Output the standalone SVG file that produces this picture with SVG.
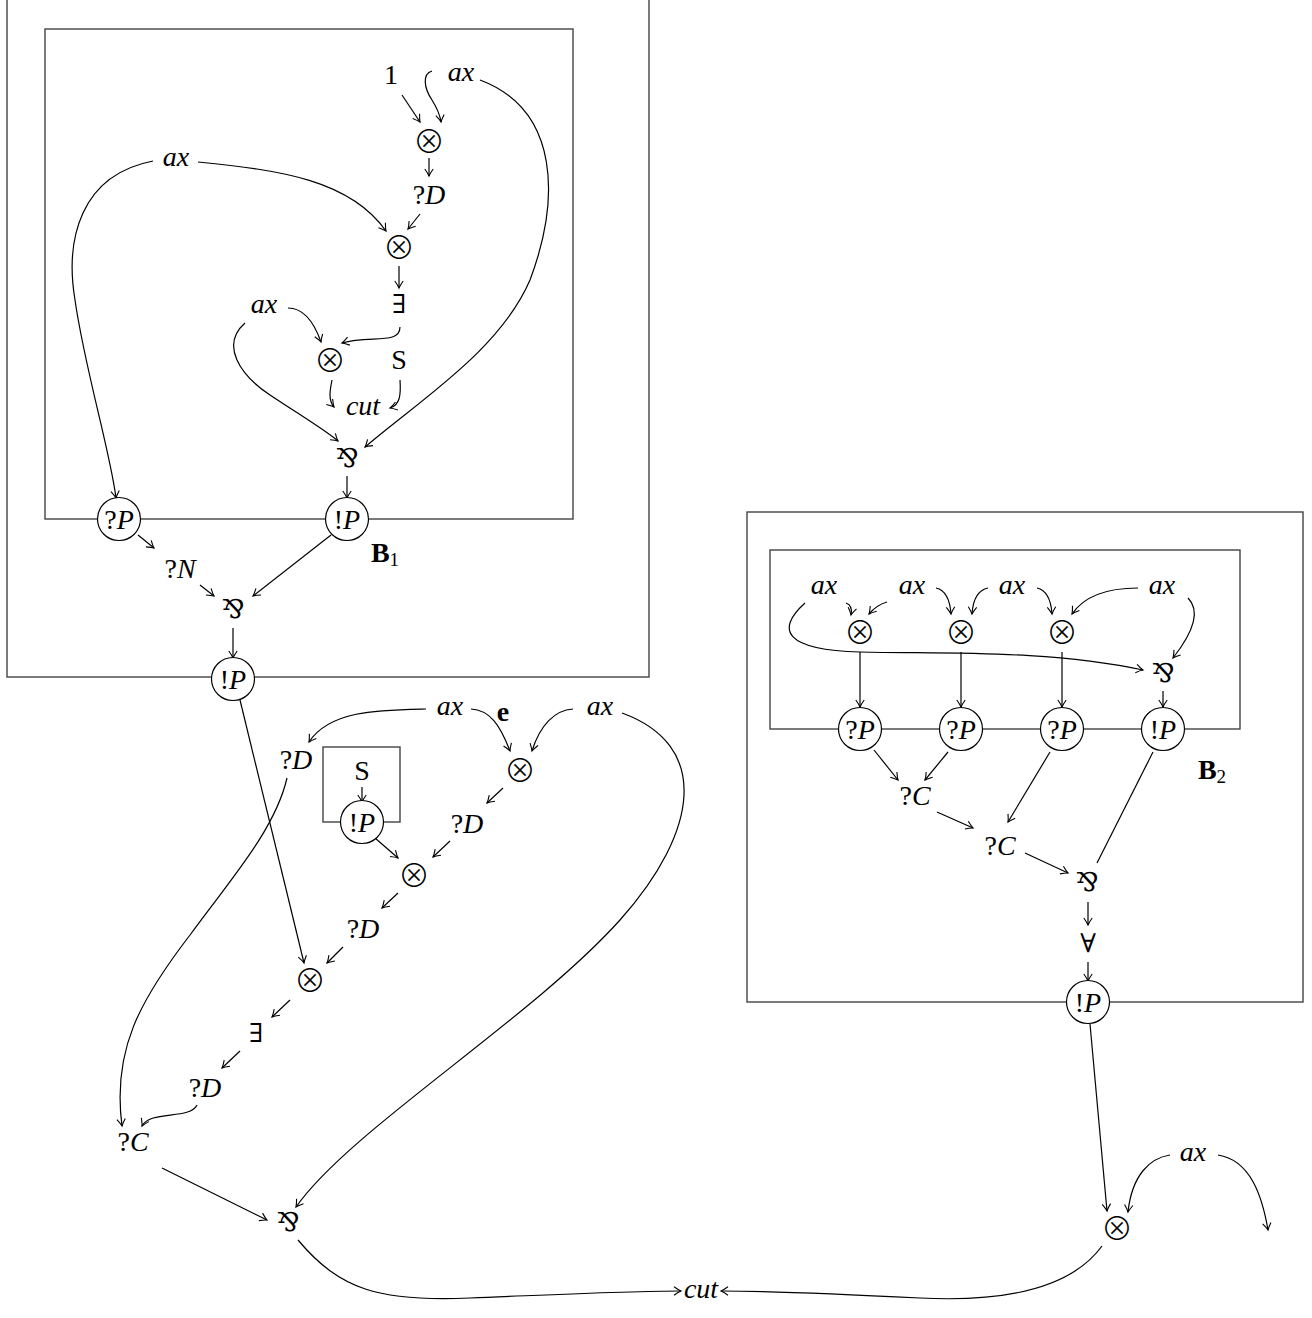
<svg xmlns="http://www.w3.org/2000/svg" width="1312" height="1318" viewBox="0 0 1312 1318">
<style>
.t{font-family:"Liberation Serif",serif;font-size:28px;text-anchor:middle;fill:#000}
.i{font-style:italic}
.s{font-family:"DejaVu Serif",serif;font-size:26px;text-anchor:middle;dominant-baseline:central;fill:#000}
.o{font-family:"Noto Sans CJK SC",sans-serif;font-size:32px;font-weight:300;text-anchor:middle;dominant-baseline:central;fill:#000;transform:translateY(-2px)}
.b{font-weight:bold}
.box{fill:none;stroke:#444;stroke-width:1.4}
.n{fill:#fff;stroke:#000;stroke-width:1.2}
.e{fill:none;stroke:#000;stroke-width:1.2}
.ea{fill:none;stroke:#000;stroke-width:1.2;marker-end:url(#ar)}
</style>
<defs>
<marker id="ar" viewBox="-9 -6 11 12" markerWidth="11" markerHeight="12" refX="0" refY="0" orient="auto" markerUnits="userSpaceOnUse">
<path d="M-7,-4.2 Q-2.5,-1 0,0 Q-2.5,1 -7,4.2" fill="none" stroke="#000" stroke-width="1.1"/>
</marker>
</defs>
<g id="boxes">
<rect class="box" x="7" y="-10" width="642" height="687"/>
<rect class="box" x="45" y="29" width="528" height="490"/>
<rect class="box" x="323" y="747" width="77" height="75"/>
<rect class="box" x="747" y="512" width="556" height="490"/>
<rect class="box" x="770" y="550" width="470" height="179"/>
</g>
<g id="connectors">
<path class="ea" d="M402,95 L420,122"/>
<path class="ea" d="M432,71 C422,74 424,88 432,100 C437,108 440,115 441,122"/>
<path class="ea" d="M429,158 L429,176"/>
<path class="ea" d="M420,214 L408,229"/>
<path class="ea" d="M480,80 C560,110 560,200 530,280 C500,350 420,400 365,447"/>
<path class="ea" d="M198,162 C280,170 350,180 386,231"/>
<path class="ea" d="M153,161 C80,175 65,240 75,300 C85,370 110,450 116,498"/>
<path class="ea" d="M399,266 L399,288"/>
<path class="ea" d="M400,327 C400,345 370,335 342,343"/>
<path class="ea" d="M288,308 C305,308 315,325 321,342"/>
<path class="ea" d="M245,323 C220,345 240,375 270,395 C300,415 325,430 338,441"/>
<path class="ea" d="M332,380 C330,390 328,400 334,407"/>
<path class="ea" d="M400,380 C401,395 400,405 390,408"/>
<path class="ea" d="M347,476 L347,498"/>
<path class="ea" d="M138,535 L154,548"/>
<path class="ea" d="M200,585 L214,596"/>
<path class="ea" d="M331,535 L253,596"/>
<path class="ea" d="M233,628 L233,658"/>
<path class="ea" d="M240,700 L304,963"/>
<path class="ea" d="M426,709 C380,710 330,710 309,742"/>
<path class="ea" d="M471,709 C490,710 500,725 510,751"/>
<path class="ea" d="M573,709 C555,710 540,725 532,751"/>
<path class="ea" d="M622,713 C710,745 700,830 620,920 C530,1020 350,1130 296,1207"/>
<path class="ea" d="M287,778 C275,830 230,880 190,935 C140,1000 112,1050 122,1126"/>
<path class="ea" d="M362,787 L362,802"/>
<path class="ea" d="M375,838 L398,858"/>
<path class="ea" d="M503,788 L487,803"/>
<path class="ea" d="M450,841 L433,857"/>
<path class="ea" d="M398,893 L382,908"/>
<path class="ea" d="M343,947 L327,963"/>
<path class="ea" d="M290,1000 L272,1017"/>
<path class="ea" d="M240,1051 L222,1068"/>
<path class="ea" d="M197,1105 C190,1120 150,1110 142,1126"/>
<path class="ea" d="M162,1168 L267,1220"/>
<path class="ea" d="M298,1240 C340,1290 380,1302 470,1298 C570,1294 630,1291 681,1291"/>
<path class="ea" d="M1102,1246 C1070,1290 1000,1302 920,1298 C820,1293 760,1291 721,1291"/>
<path class="ea" d="M1090,1024 L1107,1211"/>
<path class="ea" d="M1170,1155 C1150,1158 1132,1175 1128,1212"/>
<path class="ea" d="M1218,1155 C1250,1160 1262,1195 1268,1230"/>
<path class="ea" d="M805,603 C775,630 785,650 860,652 C950,654 1050,650 1143,670"/>
<path class="ea" d="M846,603 C852,605 852,610 851,615"/>
<path class="ea" d="M887,602 C880,604 874,608 869,614"/>
<path class="ea" d="M936,588 C945,590 950,600 951,614"/>
<path class="ea" d="M988,588 C978,590 973,600 972,614"/>
<path class="ea" d="M1037,588 C1046,590 1051,600 1052,614"/>
<path class="ea" d="M1138,588 C1110,588 1085,595 1072,614"/>
<path class="ea" d="M1188,598 C1200,610 1195,630 1173,658"/>
<path class="ea" d="M860,652 L860,707"/>
<path class="ea" d="M961,652 L961,707"/>
<path class="ea" d="M1062,652 L1062,707"/>
<path class="ea" d="M1163,691 L1163,707"/>
<path class="ea" d="M874,750 L898,780"/>
<path class="ea" d="M948,752 L925,780"/>
<path class="ea" d="M1050,752 L1008,822"/>
<path class="ea" d="M937,812 L973,828"/>
<path class="ea" d="M1025,853 L1068,873"/>
<path class="e" d="M1153,752 L1097,863"/>
<path class="ea" d="M1088,902 L1088,925"/>
<path class="ea" d="M1088,962 L1088,981"/>
</g>
<g id="n-one"><text class="t" x="391" y="84">1</text></g>
<g id="n-ax1"><text class="t i" x="461" y="81">ax</text></g>
<g id="n-ax2"><text class="t i" x="176" y="166">ax</text></g>
<g id="n-ax3"><text class="t i" x="264" y="313">ax</text></g>
<g id="n-t1"><text class="o" x="429" y="141">⊗</text></g>
<g id="n-d1"><text class="t" x="429" y="204">?<tspan class="i">D</tspan></text></g>
<g id="n-t2"><text class="o" x="399" y="247">⊗</text></g>
<g id="n-ex1"><text class="s" x="399" y="304">∃</text></g>
<g id="n-t3"><text class="o" x="330" y="360">⊗</text></g>
<g id="n-S1"><text class="t" x="399" y="369">S</text></g>
<g id="n-cut1"><text class="t i" x="363" y="415">cut</text></g>
<g id="n-p1"><text class="s" x="347" y="458">⅋</text></g>
<g id="n-qP1"><circle class="n" cx="119" cy="519" r="21.5"/><text class="t" x="119" y="529">?<tspan class="i">P</tspan></text></g>
<g id="n-bP1"><circle class="n" cx="347" cy="519" r="21.5"/><text class="t" x="347" y="529">!<tspan class="i">P</tspan></text></g>
<g id="n-B1"><text class="t b" x="385" y="562">B<tspan font-weight="normal" font-size="19" dy="4">1</tspan></text></g>
<g id="n-qN"><text class="t" x="180" y="578">?<tspan class="i">N</tspan></text></g>
<g id="n-p2"><text class="s" x="233" y="609">⅋</text></g>
<g id="n-bP2"><circle class="n" cx="233" cy="679" r="21.5"/><text class="t" x="233" y="689">!<tspan class="i">P</tspan></text></g>
<g id="n-ax4"><text class="t i" x="450" y="715">ax</text></g>
<g id="n-e"><text class="t b" x="503" y="721">e</text></g>
<g id="n-ax5"><text class="t i" x="600" y="715">ax</text></g>
<g id="n-d2"><text class="t" x="296" y="769">?<tspan class="i">D</tspan></text></g>
<g id="n-S2"><text class="t" x="362" y="780">S</text></g>
<g id="n-bP3"><circle class="n" cx="362" cy="822" r="21.5"/><text class="t" x="362" y="832">!<tspan class="i">P</tspan></text></g>
<g id="n-t4"><text class="o" x="520" y="770">⊗</text></g>
<g id="n-d3"><text class="t" x="467" y="833">?<tspan class="i">D</tspan></text></g>
<g id="n-t5"><text class="o" x="414" y="875">⊗</text></g>
<g id="n-d4"><text class="t" x="363" y="938">?<tspan class="i">D</tspan></text></g>
<g id="n-t6"><text class="o" x="310" y="980">⊗</text></g>
<g id="n-ex2"><text class="s" x="256" y="1033">∃</text></g>
<g id="n-d5"><text class="t" x="205" y="1097">?<tspan class="i">D</tspan></text></g>
<g id="n-c1"><text class="t" x="133" y="1151">?<tspan class="i">C</tspan></text></g>
<g id="n-p3"><text class="s" x="288" y="1222">⅋</text></g>
<g id="n-cut2"><text class="t i" x="701" y="1298">cut</text></g>
<g id="n-t7"><text class="o" x="1117" y="1228">⊗</text></g>
<g id="n-ax6"><text class="t i" x="1193" y="1161">ax</text></g>
<g id="n-ax7"><text class="t i" x="824" y="594">ax</text></g>
<g id="n-ax8"><text class="t i" x="912" y="594">ax</text></g>
<g id="n-ax9"><text class="t i" x="1012" y="594">ax</text></g>
<g id="n-ax10"><text class="t i" x="1162" y="594">ax</text></g>
<g id="n-t8"><text class="o" x="860" y="632">⊗</text></g>
<g id="n-t9"><text class="o" x="961" y="632">⊗</text></g>
<g id="n-t10"><text class="o" x="1062" y="632">⊗</text></g>
<g id="n-p4"><text class="s" x="1163" y="673">⅋</text></g>
<g id="n-qP2"><circle class="n" cx="860" cy="729" r="21.5"/><text class="t" x="860" y="739">?<tspan class="i">P</tspan></text></g>
<g id="n-qP3"><circle class="n" cx="961" cy="729" r="21.5"/><text class="t" x="961" y="739">?<tspan class="i">P</tspan></text></g>
<g id="n-qP4"><circle class="n" cx="1062" cy="729" r="21.5"/><text class="t" x="1062" y="739">?<tspan class="i">P</tspan></text></g>
<g id="n-bP4"><circle class="n" cx="1163" cy="729" r="21.5"/><text class="t" x="1163" y="739">!<tspan class="i">P</tspan></text></g>
<g id="n-B2"><text class="t b" x="1212" y="779">B<tspan font-weight="normal" font-size="19" dy="4">2</tspan></text></g>
<g id="n-c2"><text class="t" x="915" y="805">?<tspan class="i">C</tspan></text></g>
<g id="n-c3"><text class="t" x="1000" y="855">?<tspan class="i">C</tspan></text></g>
<g id="n-p5"><text class="s" x="1087" y="882">⅋</text></g>
<g id="n-fa"><text class="s" x="1088" y="943">∀</text></g>
<g id="n-bP5"><circle class="n" cx="1088" cy="1002" r="21.5"/><text class="t" x="1088" y="1012">!<tspan class="i">P</tspan></text></g>
</svg>
